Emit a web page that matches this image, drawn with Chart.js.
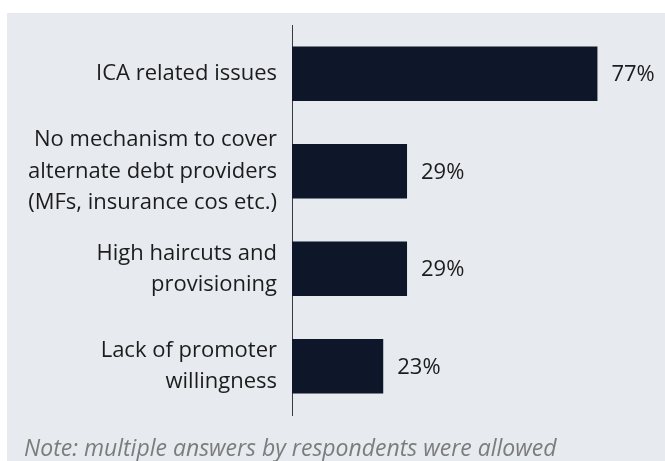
<!DOCTYPE html>
<html lang="en">
  <head>
    <meta charset="UTF-8" />
    <script src="https://cdn.jsdelivr.net/npm/chart.js"></script>
    <style>
      body {
        margin: 0;
        background: #ffffff;
      }
      #panel {
        position: absolute;
        left: 7px;
        top: 13px;
        width: 658px;
        height: 448px;
        background: #e7eaee;
      }
      #chartBox {
        position: absolute;
        left: 0;
        top: 0;
        width: 658px;
        height: 420px;
      }
      #note {
        position: absolute;
        left: 17px;
        top: 418px;
        font-family: "Open Sans", sans-serif;
        font-style: italic;
        font-size: 23px;
        color: #7c7c7c;
        white-space: nowrap;
      }
    </style>
  </head>
  <body>
    <div id="panel">
      <div id="chartBox"><canvas id="issuesChart"></canvas></div>
      <div id="note">Note: multiple answers by respondents were allowed</div>
    </div>

    <script>
      const issueLabels = [
        ["ICA related issues"],
        ["No mechanism to cover", "alternate debt providers", "(MFs, insurance cos etc.)"],
        ["High haircuts and", "provisioning"],
        ["Lack of promoter", "willingness"],
      ];
      const issueShares = [77, 29, 29, 23];

      // writes "77%" etc. just right of each bar
      const valueLabels = {
        id: "valueLabels",
        afterDatasetsDraw(chart) {
          const ctx = chart.ctx;
          const meta = chart.getDatasetMeta(0);
          ctx.save();
          ctx.font = "22px 'Open Sans', sans-serif";
          ctx.fillStyle = "#1c1c1c";
          ctx.textAlign = "left";
          ctx.textBaseline = "middle";
          meta.data.forEach((bar, i) => {
            ctx.fillText(issueShares[i] + "%", bar.x + 14, bar.y + 1);
          });
          ctx.restore();
        },
      };

      const ctx = document.getElementById("issuesChart").getContext("2d");
      new Chart(ctx, {
        type: "bar",
        data: {
          labels: issueLabels,
          datasets: [
            {
              data: issueShares,
              backgroundColor: "#0d1729",
              barPercentage: 0.56,
              categoryPercentage: 1,
            },
          ],
        },
        plugins: [valueLabels],
        options: {
          indexAxis: "y",
          responsive: true,
          maintainAspectRatio: false,
          animation: false,
          layout: {
            padding: { top: 12, bottom: 18, left: 0, right: 16 },
          },
          plugins: {
            legend: { display: false },
            tooltip: { enabled: false },
          },
          scales: {
            x: {
              display: false,
              min: 0,
              max: 90,
            },
            y: {
              afterFit(scale) {
                scale.width = 285;
                // labels sit inside their bands, no extra room needed above/below
                scale.paddingTop = 0;
                scale.paddingBottom = 0;
              },
              grid: { display: false, drawTicks: false },
              border: { display: true, color: "#3a3a44", width: 1 },
              ticks: {
                padding: 15,
                color: "#1c1c1c",
                font: { family: "'Open Sans', sans-serif", size: 22, lineHeight: 1.41 },
              },
            },
          },
        },
      });
    </script>
  </body>
</html>
